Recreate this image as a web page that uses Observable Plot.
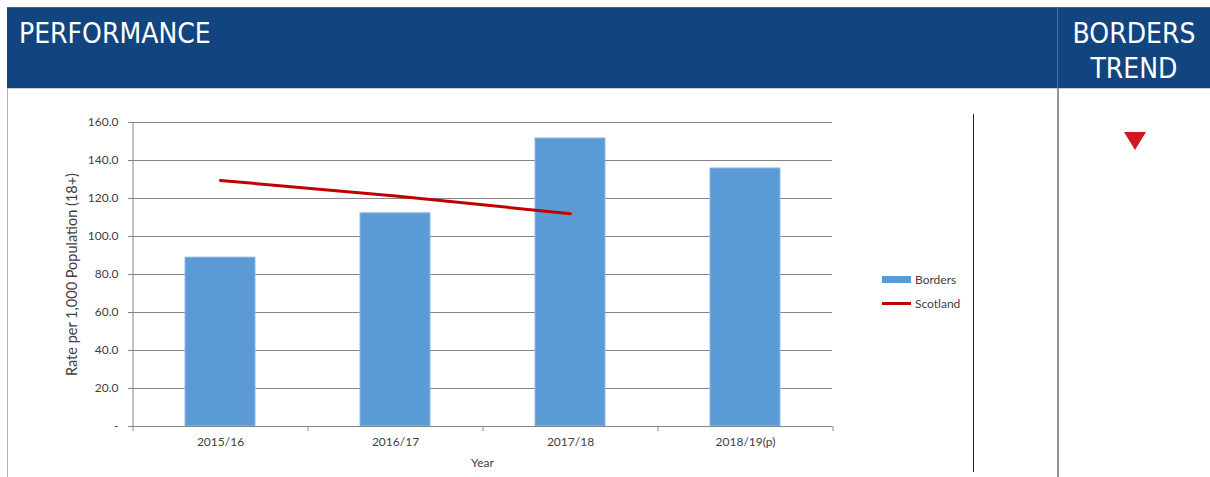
<!DOCTYPE html>
<html>
<head>
<meta charset="utf-8">
<script src="https://cdn.jsdelivr.net/npm/d3@7"></script>
<script src="https://cdn.jsdelivr.net/npm/@observablehq/plot@0.6"></script>
<style>
  html, body { margin: 0; padding: 0; background: #fff; }
  #wrap { position: relative; width: 1210px; height: 477px; overflow: hidden; background: #fff; font-family: Lato, "Open Sans", sans-serif; }
  .abs { position: absolute; }
  #header { left: 7px; top: 7px; width: 1203px; height: 80px; background: #12457f; border-top: 1px solid #55606c; border-bottom: 1px solid #c5ccd4; }
  .htxt { color: #fff; font-family: "Liberation Sans Narrow", "DejaVu Sans Condensed", sans-serif; font-size: 28px; line-height: 35px; font-weight: normal; }
  #perf { left: 19px; top: 16px; }
  #trend { left: 1058px; width: 152px; top: 16px; text-align: center; }
  #hdiv { left: 1057px; top: 8px; width: 1px; height: 80px; background: #4d6f96; }
  #lborder { left: 7px; top: 88px; width: 1px; height: 389px; background: #b0b0b0; }
  #div2 { left: 1057px; top: 88px; width: 2px; height: 389px; background: #8e9396; }
  #vline { left: 973px; top: 114px; width: 1px; height: 358px; background: #262626; }
  #chart { left: 0px; top: 88px; }
  #legend { left: 882px; top: 267px; font-size: 12px; color: #404040; font-family: Lato, sans-serif; }
  .li { display: flex; align-items: center; height: 24px; }
  .sw { width: 29px; margin-right: 4px; }
  #arrow { left: 1124px; top: 132px; }
</style>
</head>
<body>
<div id="wrap">
  <div id="header" class="abs"></div>
  <div id="hdiv" class="abs"></div>
  <div id="perf" class="abs htxt">PERFORMANCE</div>
  <div id="trend" class="abs htxt">BORDERS<br>TREND</div>
  <div id="lborder" class="abs"></div>
  <div id="div2" class="abs"></div>
  <div id="vline" class="abs"></div>
  <div id="chart" class="abs"></div>
  <div id="legend" class="abs">
    <div class="li"><div class="sw" style="height:7px;background:#5b9bd5"></div><span>Borders</span></div>
    <div class="li"><div class="sw" style="height:3px;background:#c00000"></div><span>Scotland</span></div>
  </div>
  <svg id="arrow" class="abs" width="22" height="19"><polygon points="0,0 22,0 11,18" fill="#d0171f"/></svg>
</div>
<script>
const years = ["2015/16", "2016/17", "2017/18", "2018/19(p)"];
const borders = [88.9, 112.2, 151.6, 135.8];
const scotland = [129.5, 121.3, 112.0, null];
const yTicks = [0, 20, 40, 60, 80, 100, 120, 140, 160];

const barData = years.map((y, i) => ({year: y, value: borders[i]}));
const lineData = years.map((y, i) => ({year: y, value: scotland[i]})).filter(d => d.value != null);

const W = 1050, H = 389, ML = 132, MR = 218, MT = 34, MB = 51;
const step = (W - ML - MR) / years.length;
const plotH = H - MT - MB;
const gray = "#868686";

const plot = Plot.plot({
  width: W, height: H,
  marginLeft: ML, marginRight: MR, marginTop: MT, marginBottom: MB,
  style: {fontFamily: "Lato, 'Open Sans', sans-serif", fontSize: "12px", color: "#404040", background: "transparent"},
  x: {type: "band", domain: years, paddingInner: 0.6, paddingOuter: 0.3},
  y: {domain: [0, 160]},
  marks: [
    Plot.gridY(yTicks, {stroke: gray, strokeOpacity: 1}),
    Plot.barY(barData, {x: "year", y: "value", fill: "#5b9bd5", stroke: "#8fb8e3", strokeWidth: 1}),
    Plot.lineY(lineData, {x: "year", y: "value", stroke: "#c00000", strokeWidth: 3}),
    Plot.ruleX([years[0]], {dx: -step / 2, stroke: gray}),
    Plot.ruleY([0], {stroke: gray}),
    Plot.ruleX(years, {dx: -step / 2, stroke: gray, insetTop: plotH, insetBottom: -5}),
    Plot.ruleX([years[years.length - 1]], {dx: step / 2, stroke: gray, insetTop: plotH, insetBottom: -5}),
    Plot.axisY({ticks: yTicks, tickFormat: d => d === 0 ? "-" : d.toFixed(1), tickSize: 4, tickPadding: 10, stroke: gray, label: null}),
    Plot.axisY({ticks: [], tickSize: 0, label: "Rate per 1,000 Population (18+)", labelAnchor: "center", labelOffset: 66, labelArrow: false, fontSize: 14.5}),
    Plot.axisX({tickSize: 0, tickPadding: 11, label: "Year", labelAnchor: "center", labelOffset: 40, labelArrow: false})
  ]
});
document.getElementById("chart").appendChild(plot);
</script>
</body>
</html>
